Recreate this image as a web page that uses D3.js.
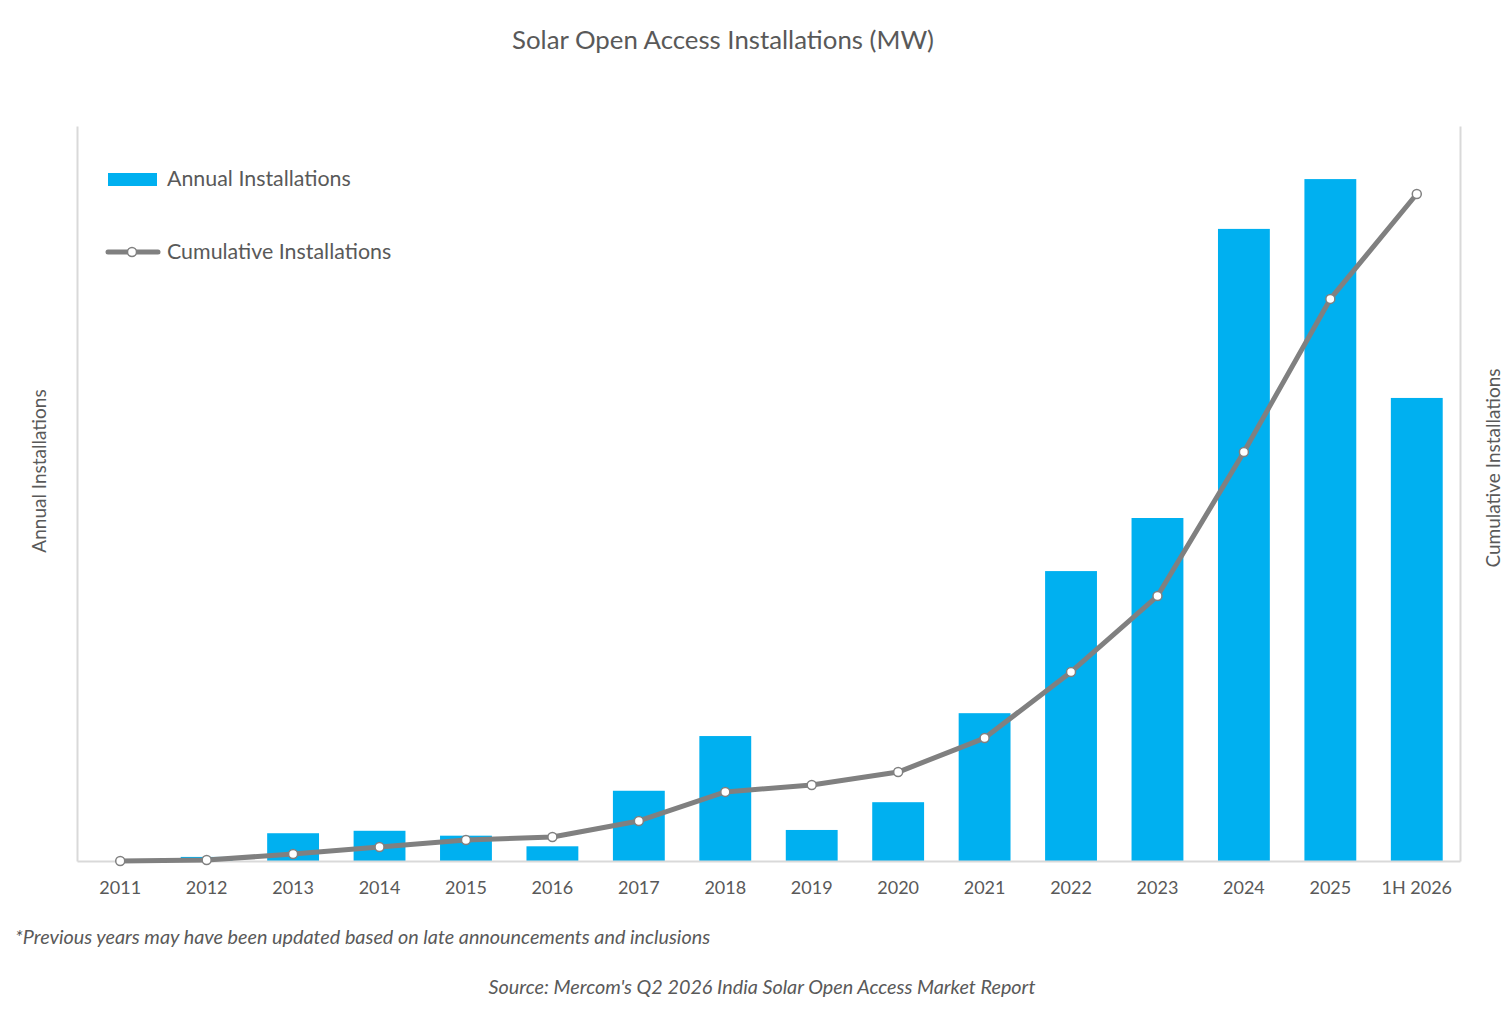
<!DOCTYPE html>
<html>
<head>
<meta charset="utf-8">
<script src="https://cdn.jsdelivr.net/npm/d3@7"></script>
<style>
  body { margin: 0; background: #fff; }
  text { font-family: Lato, "Open Sans", sans-serif; fill: #595959; }
</style>
</head>
<body>
<div id="container"></div>
<script>
const width = 1510,
  height = 1017,
  margin = { top: 126, bottom: 156, left: 77, right: 50 };

// values in MW
const years = ["2011", "2012", "2013", "2014", "2015", "2016", "2017", "2018",
  "2019", "2020", "2021", "2022", "2023", "2024", "2025", "1H 2026"];
const annual = [0, 50, 340, 370, 310, 180, 860, 1530, 380, 720, 1810, 3550, 4200, 7740, 8350, 5670];
const cumulative = [0, 50, 380, 760, 1140, 1310, 2180, 3760, 4140, 4840, 6690, 10290, 14420, 22260, 30590, 36300];

const svg = d3.select("#container")
  .append("svg")
  .attr("width", width)
  .attr("height", height)

const xScale = d3.scaleBand()
  .domain(years)
  .range([margin.left, width - margin.right])
  .paddingInner(0.4)
  .paddingOuter(0.2)

const yLeft = d3.scaleLinear()
  .domain([0, 9000])
  .range([height - margin.bottom, margin.top])

const yRight = d3.scaleLinear()
  .domain([0, 40000])
  .range([height - margin.bottom, margin.top])

// bars
svg.selectAll("rect.annual")
  .data(years)
  .join("rect")
  .attr("class", "annual")
  .attr("x", d => xScale(d))
  .attr("y", (d, i) => yLeft(annual[i]))
  .attr("width", xScale.bandwidth())
  .attr("height", (d, i) => yLeft(0) - yLeft(annual[i]))
  .style("fill", "#00b0f0")

// frame lines (left, right, baseline)
const axisColor = "#d9d9d9";
svg.append("g")
  .attr("transform", `translate(${margin.left},0)`)
  .call(d3.axisLeft(yLeft).ticks(0).tickSize(0).tickFormat(""))
  .call(g => g.select(".domain").attr("stroke", axisColor).attr("stroke-width", 2))

svg.append("g")
  .attr("transform", `translate(${width - margin.right},0)`)
  .call(d3.axisRight(yRight).ticks(0).tickSize(0).tickFormat(""))
  .call(g => g.select(".domain").attr("stroke", axisColor).attr("stroke-width", 2))

svg.append("g")
  .attr("transform", `translate(0,${height - margin.bottom})`)
  .call(d3.axisBottom(xScale).tickSize(0).tickPadding(20))
  .call(g => g.select(".domain").attr("stroke", axisColor).attr("stroke-width", 2))
  .call(g => g.selectAll("text")
    .style("font-family", "Lato, sans-serif")
    .style("font-size", "18px")
    .attr("fill", "#595959"))

// cumulative line
const cx = d => xScale(d) + xScale.bandwidth() / 2;
const line = d3.line()
  .x(d => cx(d))
  .y((d, i) => yRight(cumulative[i]))

svg.append("path")
  .datum(years)
  .attr("d", line)
  .attr("fill", "none")
  .attr("stroke", "#808080")
  .attr("stroke-width", 5)
  .attr("stroke-linejoin", "round")
  .attr("stroke-linecap", "round")

svg.selectAll("circle.cum")
  .data(years)
  .join("circle")
  .attr("class", "cum")
  .attr("cx", d => cx(d))
  .attr("cy", (d, i) => yRight(cumulative[i]))
  .attr("r", 4.5)
  .attr("fill", "#fff")
  .attr("stroke", "#808080")
  .attr("stroke-width", 1.5)

// title
svg.append("text")
  .attr("x", 723)
  .attr("y", 49)
  .attr("text-anchor", "middle")
  .style("font-size", "25.8px")
  .text("Solar Open Access Installations (MW)")

// axis titles
svg.append("text")
  .attr("transform", "translate(46,471) rotate(-90)")
  .attr("text-anchor", "middle")
  .style("font-size", "19px")
  .text("Annual Installations")

svg.append("text")
  .attr("transform", "translate(1500,468) rotate(-90)")
  .attr("text-anchor", "middle")
  .style("font-size", "19px")
  .text("Cumulative Installations")

// legend
const legend = svg.append("g")
legend.append("rect")
  .attr("x", 108).attr("y", 173)
  .attr("width", 49).attr("height", 13)
  .style("fill", "#00b0f0")
legend.append("text")
  .attr("x", 167).attr("y", 186)
  .style("font-size", "21.4px")
  .text("Annual Installations")

legend.append("line")
  .attr("x1", 108).attr("x2", 158)
  .attr("y1", 252).attr("y2", 252)
  .attr("stroke", "#808080")
  .attr("stroke-width", 5)
  .attr("stroke-linecap", "round")
legend.append("circle")
  .attr("cx", 132).attr("cy", 252).attr("r", 4.5)
  .attr("fill", "#fff")
  .attr("stroke", "#808080")
  .attr("stroke-width", 1.5)
legend.append("text")
  .attr("x", 167).attr("y", 259)
  .style("font-size", "21.4px")
  .text("Cumulative Installations")

// notes
svg.append("text")
  .attr("x", 15).attr("y", 944)
  .style("font-size", "19.8px")
  .style("font-style", "italic")
  .text("*Previous years may have been updated based on late announcements and inclusions")

svg.append("text")
  .attr("x", 762).attr("y", 994)
  .attr("text-anchor", "middle")
  .style("font-size", "19.8px")
  .style("font-style", "italic")
  .text("Source: Mercom's Q2 2026 India Solar Open Access Market Report")
</script>
</body>
</html>
